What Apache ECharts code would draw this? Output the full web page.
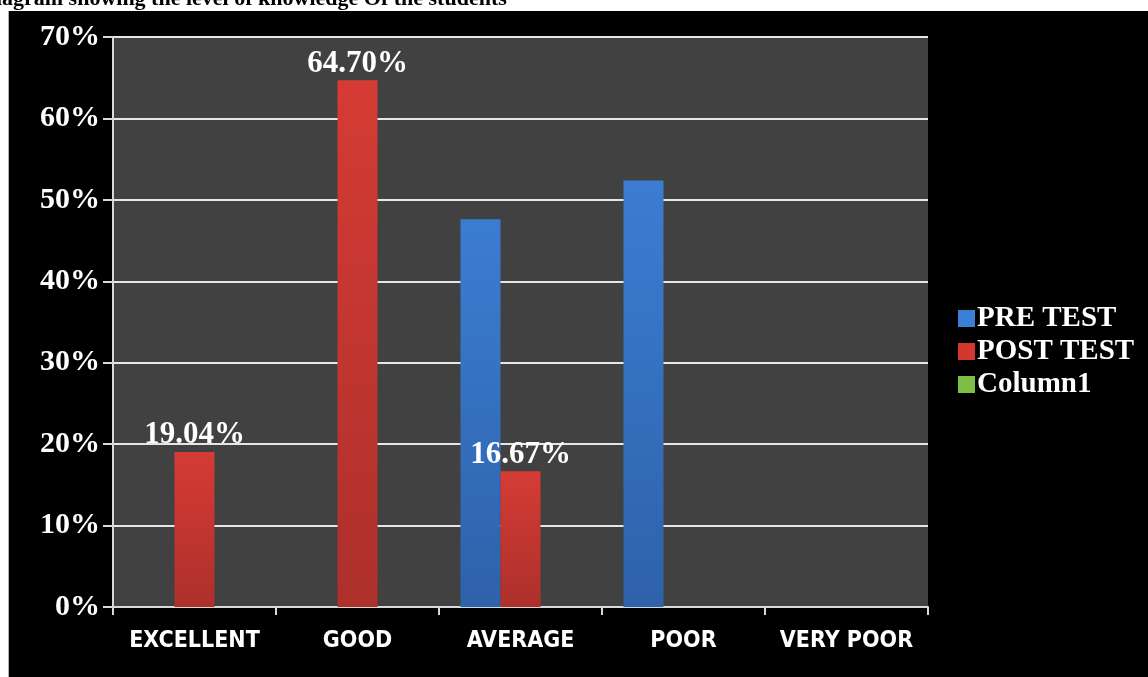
<!DOCTYPE html>
<html>
<head>
<meta charset="utf-8">
<script src="https://cdn.jsdelivr.net/npm/echarts@6/dist/echarts.min.js"></script>
<style>
html,body{margin:0;padding:0;background:#fff;}
#chart{width:1148px;height:677px;}
</style>
</head>
<body>
<div id="chart"></div>
<script>
const categories = ['EXCELLENT', 'GOOD', 'AVERAGE', 'POOR', 'VERY POOR'];
const preTest = [null, null, 47.62, 52.38, null];
const postTest = [19.04, 64.70, 16.67, null, null];
const column1 = [null, null, null, null, null];
const postLabels = ['19.04%', '64.70%', '16.67%', '', ''];
const titleText = 'Diagram showing the level of knowledge Of the students';

const serif = '"Liberation Serif", "Times New Roman", serif';
const narrow = '"Liberation Sans Narrow", "DejaVu Sans Condensed", "Liberation Sans", sans-serif';

const chart = echarts.init(document.getElementById('chart'), null, {renderer: 'canvas'});

const blueGrad = new echarts.graphic.LinearGradient(0, 0, 0, 1, [
  {offset: 0, color: '#3b7dd2'}, {offset: 1, color: '#2e62aa'}
]);
const redGrad = new echarts.graphic.LinearGradient(0, 0, 0, 1, [
  {offset: 0, color: '#d63b35'}, {offset: 1, color: '#ad302b'}
]);

const option = {
  backgroundColor: '#000',
  animation: false,
  graphic: [
    {type: 'rect', shape: {x: 0, y: 0, width: 1148, height: 11}, style: {fill: '#fff'}},
    {type: 'rect', shape: {x: 0, y: 0, width: 8, height: 677}, style: {fill: '#fff'}},
    {type: 'rect', shape: {x: 8, y: 11, width: 1, height: 666}, style: {fill: '#b0b0b0'}},
    {type: 'text', x: -20, y: 10, style: {text: titleText, font: 'bold 22px ' + serif, fill: '#000', verticalAlign: 'bottom', align: 'left'}}
  ],
  grid: {
    left: 113, right: 220, top: 37, bottom: 70,
    show: true, backgroundColor: '#414141', borderWidth: 0
  },
  legend: {
    orient: 'vertical',
    left: 953, top: 299,
    itemWidth: 17, itemHeight: 17, itemGap: 4,
    icon: 'rect',
    textStyle: {color: '#fff', fontFamily: serif, fontWeight: 'bold', fontSize: 29, padding: [0, 0, 0, -3]},
    data: [
      {name: 'PRE TEST', itemStyle: {color: '#3a7fd5'}},
      {name: 'POST TEST', itemStyle: {color: '#d5362e'}},
      {name: 'Column1', itemStyle: {color: '#7cbf44'}}
    ]
  },
  xAxis: {
    type: 'category',
    data: categories,
    axisLine: {show: true, lineStyle: {color: '#d9d9d9', width: 2}},
    axisTick: {show: true, alignWithLabel: false, interval: 0, length: 8, lineStyle: {color: '#d9d9d9', width: 2}},
    axisLabel: {color: '#fff', fontFamily: narrow, fontWeight: 'bold', fontSize: 23, margin: 23, interval: 0},
    splitLine: {show: false}
  },
  yAxis: {
    type: 'value',
    min: 0, max: 70, interval: 10,
    axisLine: {show: true, lineStyle: {color: '#d9d9d9', width: 2}},
    axisTick: {show: true, length: 10, lineStyle: {color: '#d9d9d9', width: 2}},
    axisLabel: {color: '#fff', fontFamily: serif, fontWeight: 'bold', fontSize: 30, margin: 13, formatter: '{value}%'},
    splitLine: {show: true, lineStyle: {color: '#e6e6e6', width: 2}}
  },
  series: [
    {name: 'PRE TEST', type: 'bar', data: preTest, barWidth: 40, barGap: '0%',
     itemStyle: {color: blueGrad}},
    {name: 'POST TEST', type: 'bar', data: postTest, barWidth: 40, barGap: '0%',
     itemStyle: {color: redGrad},
     label: {show: true, position: 'top', distance: 1, color: '#fff', fontFamily: serif, fontWeight: 'bold', fontSize: 31,
       formatter: function (p) { return postLabels[p.dataIndex]; }}},
    {name: 'Column1', type: 'bar', data: column1, barWidth: 40, barGap: '0%',
     itemStyle: {color: '#7cbf44'}}
  ]
};
chart.setOption(option);
</script>
</body>
</html>
